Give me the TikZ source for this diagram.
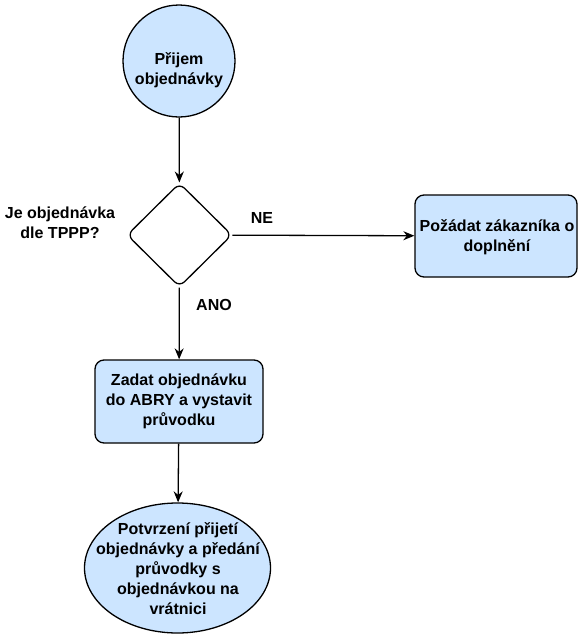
\documentclass[tikz,border=0pt]{standalone}
\usepackage{fontspec}
\setmainfont{Liberation Sans}
\usetikzlibrary{shapes.geometric,arrows.meta}
\definecolor{boxfill}{HTML}{CCE5FF}
\begin{document}
\begin{tikzpicture}[x=1pt,y=-1pt,
  every node/.style={font=\bfseries\fontsize{16}{20}\selectfont, align=center, inner sep=0pt},
  shapebox/.style={draw=black, line width=1.3pt, fill=boxfill},
  startnode/.style={shapebox, circle, minimum size=112pt},
  decision/.style={shapebox, fill=white, diamond, minimum width=105pt, minimum height=104pt, rounded corners=7pt},
  taskbox/.style={shapebox, rectangle, rounded corners=9pt},
  endnode/.style={shapebox, ellipse, minimum width=186pt, minimum height=130pt},
  flow/.style={draw=black, line width=1.3pt, -{Stealth[length=11pt,width=9pt]}},
  lbl/.style={font=\bfseries\fontsize{16}{20}\selectfont}
]
\useasboundingbox (0,0) rectangle (578,635);

% shapes (outlines drawn empty, texts set on top)
\node[startnode] (start) at (179,61) {};
\node (starttext) at (179,70) {Přijem\\objednávky};

\node[decision] (check) at (179.5,235) {};
\node[lbl] (question) at (60,223) {Je objednávka\\dle TPPP?};

\node[taskbox, minimum width=162pt, minimum height=82pt] (ask) at (496,236) {};
\node (asktext) at (497,237) {Požádat zákazníka o\\doplnění};

\node[taskbox, minimum width=168pt, minimum height=83pt] (enter) at (179,401.5) {Zadat objednávku\\do ABRY a vystavit\\průvodku};

\node[endnode] (confirm) at (177.5,568) {};
\node (confirmtext) at (178,569) {Potvrzení přijetí\\objednávky a předání\\průvodky s\\objednávkou na\\vrátnici};

% connectors
\draw[flow] (start) -- (check);
\draw[flow] (check) -- (ask);
\draw[flow] (check) -- (enter);
\draw[flow] (enter) -- (confirm);

% branch labels
\node[lbl] (no) at (262,218) {NE};
\node[lbl] (yes) at (214,305) {ANO};
\end{tikzpicture}
\end{document}
